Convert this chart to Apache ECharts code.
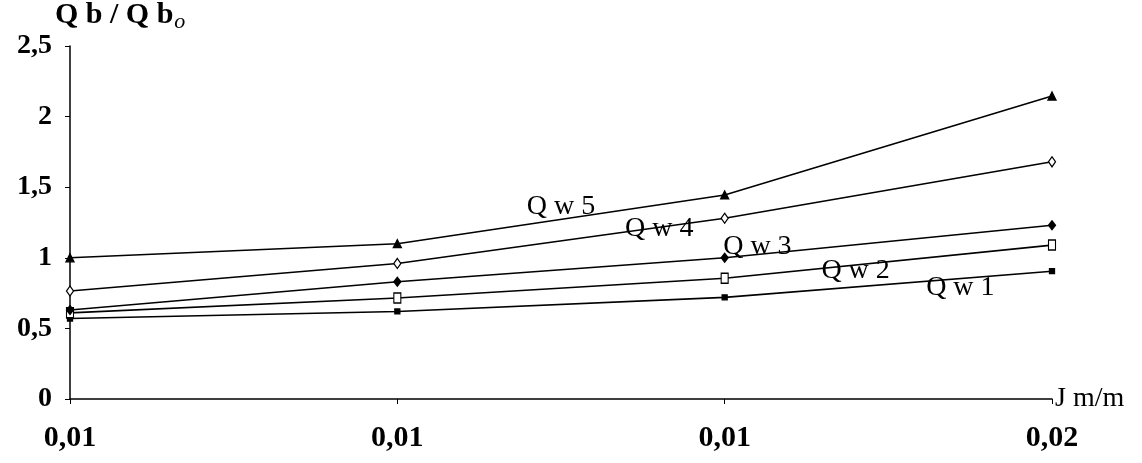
<!DOCTYPE html>
<html>
<head>
<meta charset="utf-8">
<script src="https://cdn.jsdelivr.net/npm/echarts@6/dist/echarts.min.js"></script>
<style>html,body{margin:0;padding:0;background:#fff}#c{width:1142px;height:463px}</style>
</head>
<body>
<div id="c"></div>
<script>
var categories = ['0,01', '0,01', '0,01', '0,02'];
var qw1 = [0.57, 0.62, 0.72, 0.905];
var qw2 = [0.61, 0.715, 0.855, 1.09];
var qw3 = [0.63, 0.83, 1.0, 1.23];
var qw4 = [0.765, 0.96, 1.28, 1.68];
var qw5 = [1.0, 1.10, 1.445, 2.146];
var seriesNames = ['Q w 1', 'Q w 2', 'Q w 3', 'Q w 4', 'Q w 5'];
var yTicks = [0, 0.5, 1, 1.5, 2, 2.5];

// label anchors in data coordinates (fractional category index, value)
var labelAnchors = [[2.72, 0.79], [2.40, 0.91], [2.10, 1.08], [1.80, 1.21], [1.50, 1.36]];

var serif = '"Liberation Serif","DejaVu Serif",serif';
var chart = echarts.init(document.getElementById('c'));

function mk(name, data, symbol, size, hollow) {
  return {
    name: name, type: 'line', data: data,
    symbol: symbol, symbolSize: size, showSymbol: true,
    lineStyle: {color: '#000', width: 1.6},
    itemStyle: {color: hollow ? '#fff' : '#000', borderColor: '#000', borderWidth: 1.3},
    animation: false
  };
}

chart.setOption({
  animation: false,
  grid: {left: 70, right: 90, top: 46, bottom: 64},
  xAxis: {
    type: 'category', data: categories, boundaryGap: false,
    name: 'J m/m', nameLocation: 'end', nameGap: 3,
    nameTextStyle: {fontFamily: serif, fontSize: 28, color: '#000', verticalAlign: 'middle'},
    axisLine: {lineStyle: {color: '#000', width: 1.5}},
    axisTick: {show: true, length: 5, inside: false, lineStyle: {color: '#000'}},
    axisLabel: {fontFamily: serif, fontWeight: 'bold', fontSize: 30, color: '#000', margin: 24},
    splitLine: {show: false}
  },
  yAxis: {
    type: 'value', min: 0, max: 2.5, interval: 0.5,
    axisLine: {show: true, lineStyle: {color: '#000', width: 1.5}},
    axisTick: {show: true, length: 5, lineStyle: {color: '#000'}},
    axisLabel: {fontFamily: serif, fontWeight: 'bold', fontSize: 28, color: '#000', margin: 18,
      formatter: function (v) { return String(v).replace('.', ','); }},
    splitLine: {show: false}
  },
  series: [
    mk(seriesNames[0], qw1, 'rect', 5, false),
    mk(seriesNames[1], qw2, 'rect', [7, 10], true),
    mk(seriesNames[2], qw3, 'diamond', [7, 9], false),
    mk(seriesNames[3], qw4, 'diamond', [7, 10], true),
    mk(seriesNames[4], qw5, 'triangle', 8, false)
  ]
});

function toPixel(p) {
  var i0 = Math.floor(p[0]), f = p[0] - i0;
  var a = chart.convertToPixel({xAxisIndex: 0, yAxisIndex: 0}, [i0, p[1]]);
  var b = chart.convertToPixel({xAxisIndex: 0, yAxisIndex: 0}, [i0 + 1, p[1]]);
  return [a[0] + (b[0] - a[0]) * f, a[1]];
}

var graphics = [{
  type: 'text', left: 55, top: 0, z: 100,
  style: {
    text: '{a|Q b / Q b}{s|o}',
    rich: {
      a: {fontFamily: serif, fontSize: 30, fill: '#000', fontWeight: 'bold'},
      s: {fontFamily: serif, fontSize: 22, fontStyle: 'italic', fill: '#000', verticalAlign: 'bottom', padding: [14, 0, 0, 1]}
    }
  }
}];
labelAnchors.forEach(function (p, i) {
  var px = toPixel(p);
  graphics.push({
    type: 'text', x: px[0], y: px[1], z: 100,
    style: {text: seriesNames[i], fontFamily: serif, fontSize: 28, fill: '#000',
      align: 'center', verticalAlign: 'middle'}
  });
});
chart.setOption({graphic: graphics});
</script>
</body>
</html>
